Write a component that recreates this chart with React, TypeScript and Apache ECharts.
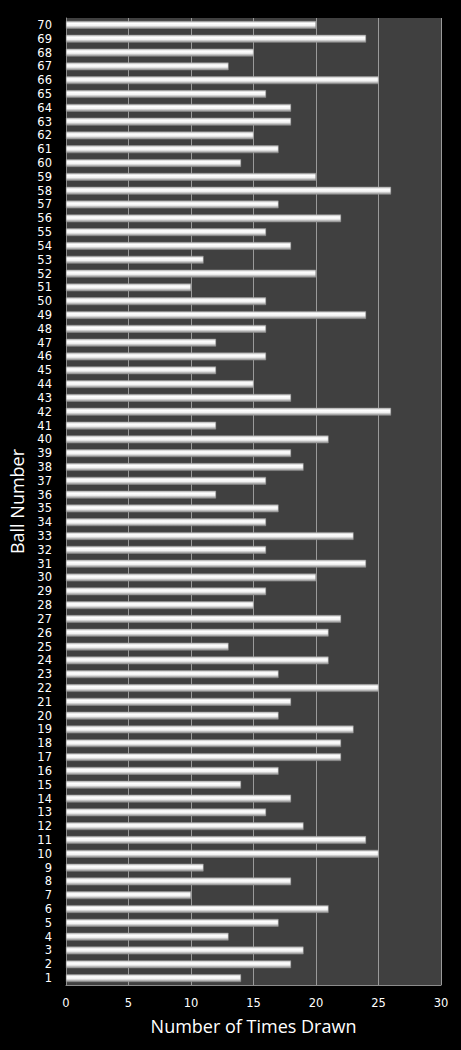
import { useEffect, useRef } from 'react'
import * as echarts from 'echarts'

const balls = Array.from({ length: 70 }, (_, i) => String(i + 1))

// times drawn for balls 1..70
const timesDrawn = [
  14, 18, 19, 13, 17, 21, 10, 18, 11, 25,
  24, 19, 16, 18, 14, 17, 22, 22, 23, 17,
  18, 25, 17, 21, 13, 21, 22, 15, 16, 20,
  24, 16, 23, 16, 17, 12, 16, 19, 18, 21,
  12, 26, 18, 15, 12, 16, 12, 16, 24, 16,
  10, 20, 11, 18, 16, 22, 17, 26, 20, 14,
  17, 15, 18, 18, 16, 25, 13, 15, 24, 20,
]

const xTicks = [0, 5, 10, 15, 20, 25, 30]

const FONT = '"Open Sans", sans-serif'
const TICK_FONT = '"DejaVu Sans", sans-serif'

export default function App() {
  const chartRef = useRef<HTMLDivElement>(null)

  useEffect(() => {
    if (!chartRef.current) return
    const chart = echarts.init(chartRef.current, null, { renderer: 'svg' })

    chart.setOption({
      animation: false,
      backgroundColor: '#000000',
      grid: { left: 66, right: 20, top: 18, bottom: 65, containLabel: false },
      xAxis: {
        type: 'value',
        min: xTicks[0],
        max: xTicks[xTicks.length - 1],
        interval: 5,
        name: 'Number of Times Drawn',
        nameLocation: 'middle',
        nameGap: 32,
        nameTextStyle: { color: '#ffffff', fontSize: 18, fontFamily: FONT },
        axisLine: { show: true, lineStyle: { color: '#8c8c8c', width: 1 } },
        axisTick: { show: false },
        axisLabel: { color: '#ffffff', fontSize: 11.5, fontFamily: TICK_FONT, margin: 12 },
        splitLine: { show: true, lineStyle: { color: '#9a9a9a', width: 1 } },
      },
      yAxis: {
        type: 'category',
        data: balls,
        name: 'Ball Number',
        nameLocation: 'middle',
        nameGap: 29,
        nameRotate: 90,
        nameTextStyle: { color: '#ffffff', fontSize: 18, fontFamily: FONT },
        axisLine: { show: true, lineStyle: { color: '#8c8c8c', width: 1 } },
        axisTick: { show: false },
        axisLabel: {
          color: '#ffffff',
          fontSize: 11.5,
          lineHeight: 12,
          fontFamily: TICK_FONT,
          margin: 14,
          interval: 0,
        },
        splitArea: { show: false },
      },
      series: [
        {
          type: 'bar',
          data: timesDrawn,
          barWidth: '56%',
          itemStyle: {
            color: new echarts.graphic.LinearGradient(0, 0, 0, 1, [
              { offset: 0, color: '#bdbdbd' },
              { offset: 0.3, color: '#ffffff' },
              { offset: 0.6, color: '#f2f2f2' },
              { offset: 1, color: '#8a8a8a' },
            ]),
            borderColor: '#9c9c9c',
            borderWidth: 0.5,
          },
        },
      ],
      graphic: [
        {
          type: 'rect',
          z: -1,
          shape: { x: 66, y: 18, width: 375, height: 967 },
          style: { fill: '#404040' },
          silent: true,
        },
      ],
    })

    return () => {
      chart.dispose()
    }
  }, [])

  return (
    <div
      ref={chartRef}
      style={{ position: 'absolute', left: 0, top: 0, width: 461, height: 1050, background: '#000' }}
    />
  )
}
